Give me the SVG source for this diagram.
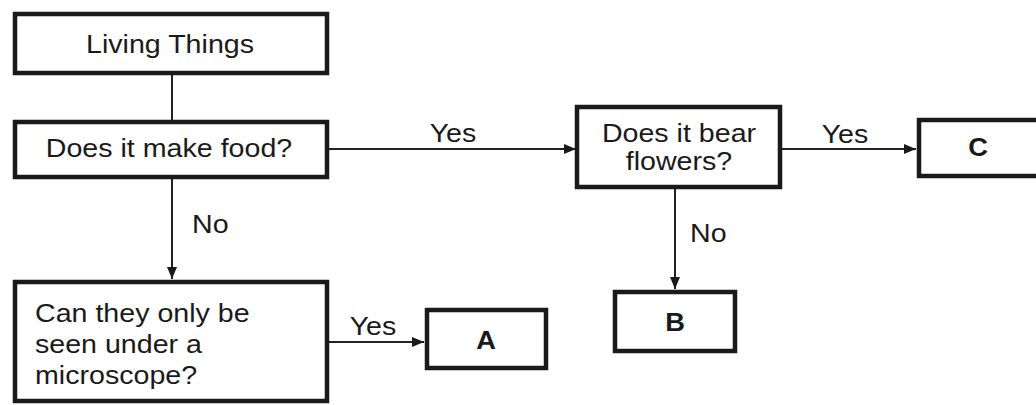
<svg xmlns="http://www.w3.org/2000/svg" width="1036" height="405" viewBox="0 0 1036 405">
  <defs>
    <marker id="arrow" viewBox="0 0 12 10" refX="12" refY="5" markerWidth="12" markerHeight="10" markerUnits="userSpaceOnUse" orient="auto">
      <path d="M0,0 L12,5 L0,10 Z" fill="#1a1a1a"/>
    </marker>
    <style>
      .box { fill: #ffffff; stroke: #1a1a1a; stroke-width: 4.5; }
      .link { fill: none; stroke: #222222; stroke-width: 2; }
      .txt { font-family: "Liberation Sans", Arial, sans-serif; font-size: 26px; fill: #1a1a1a; }
      .mid { text-anchor: middle; }
      .bold { font-weight: bold; }
    </style>
  </defs>
  <rect width="1036" height="405" fill="#ffffff"/>

  <!-- connectors; labels use a slightly wide letterform (scale 1.1 horizontally) -->
  <g id="connectors">
    <line class="link" x1="172" y1="75" x2="172" y2="120"/>
    <line class="link" x1="329" y1="149" x2="576" y2="149" marker-end="url(#arrow)"/>
    <text class="txt mid" transform="translate(453,142) scale(1.1,1)">Yes</text>
    <line class="link" x1="782" y1="149" x2="916" y2="149" marker-end="url(#arrow)"/>
    <text class="txt mid" transform="translate(845,143) scale(1.1,1)">Yes</text>
    <line class="link" x1="172" y1="179" x2="172" y2="279" marker-end="url(#arrow)"/>
    <text class="txt" transform="translate(192,233) scale(1.1,1)">No</text>
    <line class="link" x1="675" y1="189" x2="675" y2="289" marker-end="url(#arrow)"/>
    <text class="txt" transform="translate(690,242) scale(1.1,1)">No</text>
    <line class="link" x1="329" y1="342" x2="424" y2="342" marker-end="url(#arrow)"/>
    <text class="txt mid" transform="translate(373,335) scale(1.1,1)">Yes</text>
  </g>

  <g id="living-things">
    <rect class="box" x="15" y="14" width="312" height="59"/>
    <text class="txt mid" transform="translate(170,53) scale(1.1,1)">Living Things</text>
  </g>

  <g id="make-food">
    <rect class="box" x="15" y="122" width="312" height="55"/>
    <text class="txt mid" transform="translate(169,157) scale(1.1,1)">Does it make food?</text>
  </g>

  <g id="bear-flowers">
    <rect class="box" x="577" y="107" width="203" height="80"/>
    <text class="txt mid" transform="translate(679,142) scale(1.1,1)">Does it bear</text>
    <text class="txt mid" transform="translate(679,170) scale(1.1,1)">flowers?</text>
  </g>

  <g id="node-c">
    <rect class="box" x="919" y="120" width="130" height="56"/>
    <text class="txt mid bold" transform="translate(978,156) scale(1.05,1)">C</text>
  </g>

  <g id="microscope">
    <rect class="box" x="15" y="282" width="312" height="119"/>
    <text class="txt" transform="translate(35,322) scale(1.1,1)">Can they only be</text>
    <text class="txt" transform="translate(35,353) scale(1.1,1)">seen under a</text>
    <text class="txt" transform="translate(35,384) scale(1.1,1)">microscope?</text>
  </g>

  <g id="node-a">
    <rect class="box" x="427" y="310" width="119" height="58"/>
    <text class="txt mid bold" transform="translate(486,349) scale(1.05,1)">A</text>
  </g>

  <g id="node-b">
    <rect class="box" x="615" y="292" width="120" height="59"/>
    <text class="txt mid bold" transform="translate(675,331) scale(1.05,1)">B</text>
  </g>
</svg>
